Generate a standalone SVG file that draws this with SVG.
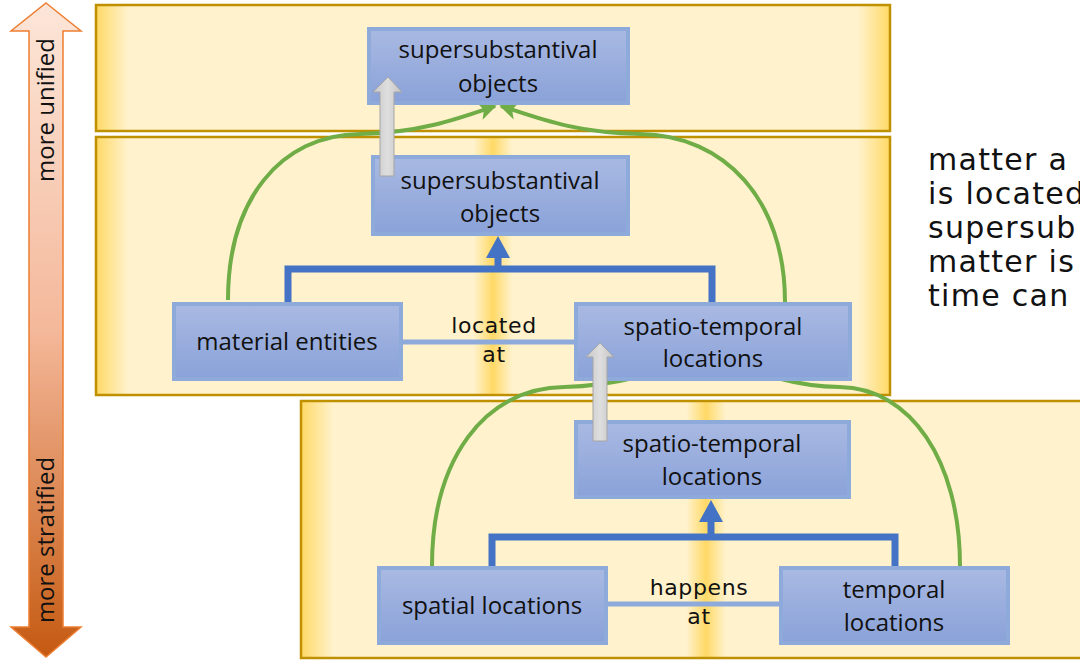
<svg xmlns="http://www.w3.org/2000/svg" width="1080" height="660" viewBox="0 0 1080 660">
  <style>
    .panel { fill: url(#panelFill); stroke: #bf9000; stroke-width: 2.5; }
    .panelTop { fill: url(#panelEdgeFill); stroke: #bf9000; stroke-width: 2.5; }
    .box { fill: url(#boxFill); stroke: #8eaadb; stroke-width: 4; }
    .boxText { font-family: "Open Sans", "Noto Sans", sans-serif; font-size: 24px; fill: #111; text-anchor: middle; }
    .relText { font-family: "DejaVu Sans", sans-serif; font-size: 22px; letter-spacing: 0.6px; fill: #111; text-anchor: middle; }
    .sideText { font-family: "DejaVu Sans", sans-serif; font-size: 30px; letter-spacing: 1.3px; fill: #111; }
    .axisText { font-family: "Open Sans", "Noto Sans", sans-serif; font-size: 24px; fill: #111; text-anchor: middle; }
    .isa { fill: none; stroke: #4472c4; stroke-width: 7; }
    .rel { fill: none; stroke: #8eaadb; stroke-width: 5; }
    .merge { fill: none; stroke: #70ad47; stroke-width: 4; marker-end: url(#greenHead); }
    .lift { fill: url(#grayFill); stroke: #a5a5a5; stroke-width: 1; }
  </style>
  <defs>
    <linearGradient id="panelFill" x1="0" y1="0" x2="1" y2="0">
      <stop offset="0" stop-color="#ffd966"/>
      <stop offset="0.04" stop-color="#fff2cc"/>
      <stop offset="0.476" stop-color="#fff2cc"/>
      <stop offset="0.5" stop-color="#ffd966"/>
      <stop offset="0.524" stop-color="#fff2cc"/>
      <stop offset="0.96" stop-color="#fff2cc"/>
      <stop offset="1" stop-color="#ffd966"/>
    </linearGradient>
    <linearGradient id="panelEdgeFill" x1="0" y1="0" x2="1" y2="0">
      <stop offset="0" stop-color="#ffd966"/>
      <stop offset="0.04" stop-color="#fff2cc"/>
      <stop offset="0.96" stop-color="#fff2cc"/>
      <stop offset="1" stop-color="#ffd966"/>
    </linearGradient>
    <linearGradient id="boxFill" x1="0" y1="0" x2="0" y2="1">
      <stop offset="0" stop-color="#a9b9e2"/>
      <stop offset="1" stop-color="#8aa2d9"/>
    </linearGradient>
    <linearGradient id="axisFill" x1="0" y1="0" x2="0" y2="1">
      <stop offset="0" stop-color="#fce6d9"/>
      <stop offset="0.5" stop-color="#f4b89a"/>
      <stop offset="1" stop-color="#c55a11"/>
    </linearGradient>
    <linearGradient id="grayFill" x1="0" y1="0" x2="1" y2="0">
      <stop offset="0" stop-color="#c8c8c8"/>
      <stop offset="0.5" stop-color="#dedede"/>
      <stop offset="1" stop-color="#c4c4c4"/>
    </linearGradient>
    <marker id="greenHead" viewBox="0 0 10 10" refX="9" refY="5" markerWidth="4.5" markerHeight="4.5" orient="auto" markerUnits="strokeWidth">
      <path d="M0,0 L10,5 L0,10 L2.5,5 Z" fill="#70ad47"/>
    </marker>
  </defs>

  <!-- vertical axis: unified (top) to stratified (bottom) -->
  <g id="axis">
    <polygon points="46,3 81,31 63,31 63,627 81,627 46,657 11,627 29,627 29,31 11,31" fill="url(#axisFill)" stroke="#ed7d31" stroke-width="1.5"/>
    <text class="axisText" transform="translate(54,110) rotate(-90)">more unified</text>
    <text class="axisText" transform="translate(54,540) rotate(-90)">more stratified</text>
  </g>

  <!-- layer panels -->
  <g id="layer-top"><rect class="panelTop" x="96" y="5" width="794" height="126"/></g>
  <g id="layer-middle"><rect class="panel" x="96" y="137" width="794" height="258"/></g>
  <g id="layer-bottom"><rect class="panel" x="301" y="401" width="810" height="257"/></g>

  <!-- connectors -->
  <g id="connectors">
    <!-- is-a brackets -->
    <path class="isa" d="M288,302 V269 H712 V302 M498,269 V252"/>
    <polygon points="498,236 510,258 486,258" fill="#4472c4"/>
    <path class="isa" d="M492,566 V537 H895 V566 M711,537 V516"/>
    <polygon points="711,500 723,522 699,522" fill="#4472c4"/>
    <!-- relations -->
    <line class="rel" x1="403" y1="342" x2="574" y2="342"/>
    <line class="rel" x1="608" y1="604" x2="779" y2="604"/>
    <!-- merge curves -->
    <path class="merge" d="M228,300 C228,200 280,135 360,134 C420,133 460,118 495,106"/>
    <path class="merge" d="M785,302 C785,200 725,135 640,134 C575,133 538,118 501,106"/>
    <path class="merge" d="M432,566 C432,460 484,388 564,387 C624,386 672,367 707,355"/>
    <path class="merge" d="M960,566 C960,460 910,388 840,387 C780,386 750,367 717,355"/>
  </g>

  <!-- nodes -->
  <g id="node-objects-top">
    <rect class="box" x="369" y="29" width="259" height="74"/>
    <text class="boxText" x="498" y="58">supersubstantival</text>
    <text class="boxText" x="498" y="92">objects</text>
  </g>
  <g id="node-objects-mid">
    <rect class="box" x="373" y="157" width="255" height="77"/>
    <text class="boxText" x="500" y="189">supersubstantival</text>
    <text class="boxText" x="500" y="222">objects</text>
  </g>
  <g id="node-material">
    <rect class="box" x="174" y="304" width="227" height="75"/>
    <text class="boxText" x="287" y="350">material entities</text>
  </g>
  <g id="node-st-mid">
    <rect class="box" x="576" y="304" width="274" height="75"/>
    <text class="boxText" x="713" y="335">spatio-temporal</text>
    <text class="boxText" x="713" y="367">locations</text>
  </g>
  <g id="node-st-low">
    <rect class="box" x="576" y="422" width="273" height="75"/>
    <text class="boxText" x="712" y="452">spatio-temporal</text>
    <text class="boxText" x="712" y="485">locations</text>
  </g>
  <g id="node-spatial">
    <rect class="box" x="379" y="568" width="227" height="75"/>
    <text class="boxText" x="492" y="614">spatial locations</text>
  </g>
  <g id="node-temporal">
    <rect class="box" x="781" y="568" width="227" height="75"/>
    <text class="boxText" x="894" y="598">temporal</text>
    <text class="boxText" x="894" y="631">locations</text>
  </g>

  <!-- relation labels -->
  <g id="labels">
    <text class="relText" x="494" y="333">located</text>
    <text class="relText" x="494" y="362">at</text>
    <text class="relText" x="699" y="595">happens</text>
    <text class="relText" x="699" y="624">at</text>
  </g>

  <!-- lift arrows between layers -->
  <g id="lifts">
    <polygon class="lift" points="388,77 402,92 394,92 394,176 380,176 380,92 373,92"/>
    <polygon class="lift" points="600,343 614,357 607,357 607,441 593,441 593,357 586,357"/>
  </g>

  <!-- side note, running past the right edge -->
  <g id="note">
    <text class="sideText" x="928" y="170">matter a</text>
    <text class="sideText" x="928" y="204">is located</text>
    <text class="sideText" x="928" y="238">supersub</text>
    <text class="sideText" x="928" y="272">matter is</text>
    <text class="sideText" x="928" y="306">time can</text>
  </g>
</svg>
